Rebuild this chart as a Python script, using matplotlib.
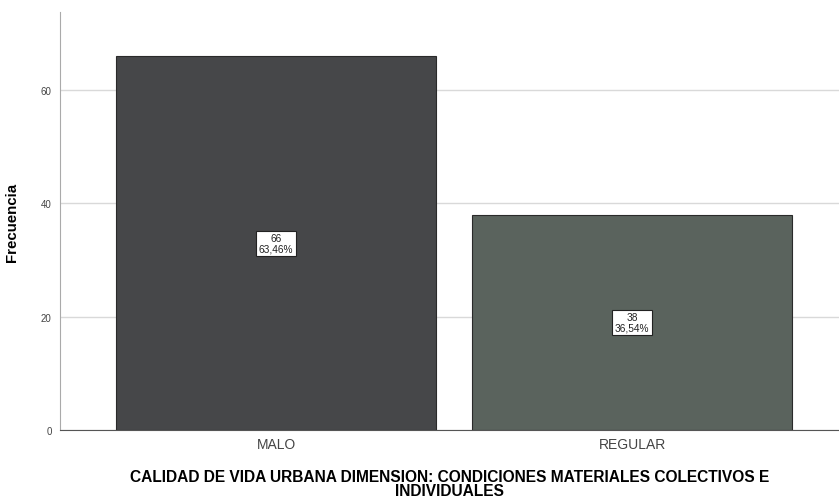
import matplotlib
matplotlib.use("Agg")
import matplotlib.pyplot as plt

categories = ["MALO", "REGULAR"]
counts = [66, 38]
percents = ["63,46%", "36,54%"]
colors = ["#464749", "#5a635d"]

plt.rcParams['font.family'] = ['Liberation Sans', 'DejaVu Sans']

fig = plt.figure(figsize=(8.39, 5.02), dpi=100)
ax = fig.add_axes([60/839, 1-431/502, 1-60/839, (431-13)/502])

x = list(range(len(categories)))
ax.bar(x, counts, width=0.9, color=colors, edgecolor="#2a2a2a", linewidth=0.8, zorder=2)
for xi, c, p in zip(x, counts, percents):
    ax.text(xi, c/2, f"{c}\n{p}", ha="center", va="center", fontsize=7.3, color="#222222",
            linespacing=1.0,
            bbox=dict(boxstyle="square,pad=0.25", facecolor="white", edgecolor="#222222", linewidth=0.8),
            zorder=3)

ax.set_xlim(-0.607, 1.581)
ax.set_ylim(0, 73.8)
ax.set_yticks([0, 20, 40, 60])
ax.set_xticks(x)
ax.set_xticklabels(categories, fontsize=10, color="#444444")
ax.tick_params(axis="y", length=0, labelsize=7, labelcolor="#444444", pad=6)
ax.tick_params(axis="x", length=0, pad=5)
ax.yaxis.grid(True, color="#d9d9d9", linewidth=1, zorder=0)
ax.set_axisbelow(True)
for s in ["top", "right"]:
    ax.spines[s].set_visible(False)
ax.spines["left"].set_color("#aaaaaa")
ax.spines["bottom"].set_color("#555555")

ax.set_ylabel("Frecuencia", fontsize=10.8, fontweight="bold")
ax.yaxis.set_label_coords(-0.053, 0.5)
ax.set_xlabel("CALIDAD DE VIDA URBANA DIMENSION: CONDICIONES MATERIALES COLECTIVOS E\nINDIVIDUALES",
              fontsize=11.2, fontweight="bold", linespacing=0.88, labelpad=13)

fig.savefig("out.png", dpi=100)
